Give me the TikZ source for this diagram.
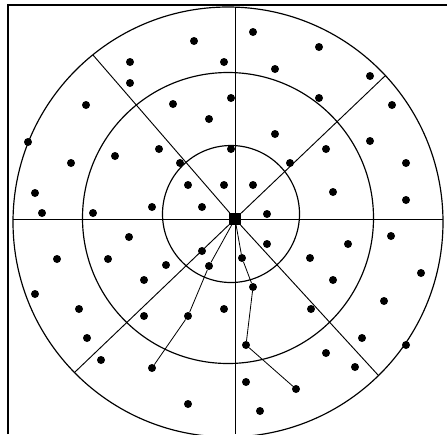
\documentclass[tikz,border=0pt]{standalone}
\begin{document}
\begin{tikzpicture}[x=0.03cm, y=-0.03cm,
  dot/.style={circle, fill, inner sep=0pt, minimum size=2.4mm},
  hubbox/.style={rectangle, fill, inner sep=0pt, minimum size=3.5mm},
  ring/.style={line width=1pt},
  spoke/.style={line width=0.8pt},
  route/.style={line width=0.7pt}]
\useasboundingbox (0,0) rectangle (447,434);
\clip (0,0) rectangle (447,434);

\draw[line width=1.6pt] (8,434) -- (8,5) -- (447,5);

\draw[ring] (231,214) circle (68.5);
\draw[ring] (228,218) circle (145.5);
\draw[ring] (228,222) circle (215);

\node[hubbox] (hub) at (235,219) {};

\coordinate (west) at (13,219);
\coordinate (east) at (443,219);
\coordinate (north) at (235,7);
\coordinate (south) at (235,434);
\coordinate (nw) at (93,55);
\coordinate (ne) at (386,75);
\coordinate (se) at (378,375);
\coordinate (sw) at (75,372);

\foreach \p in {west,east,north,south,nw,ne,se,sw}
  \draw[spoke] (hub) -- (\p);

\foreach \x/\y [count=\i] in {194/41, 130/62, 224/62, 130/83, 86/105, 173/104,
  209/119, 28/142, 159/149, 115/156, 71/163, 180/163, 35/193, 188/185,
  224/185, 152/207, 202/207, 42/213, 93/213, 231/98, 231/149,
  253/32, 319/47, 275/69, 370/76, 319/98, 392/105, 275/134, 370/141,
  326/149, 290/163, 406/163, 253/185, 333/192, 406/200, 267/214,
  129/237, 57/259, 108/259, 166/265, 202/251, 35/294, 144/280, 79/309,
  144/316, 224/309, 87/338, 101/360, 188/404,
  267/244, 348/244, 391/236, 310/258, 421/273, 333/280, 384/301,
  311/309, 362/338, 406/345, 326/353, 355/367, 246/382, 260/411}
  \node[dot] (d\i) at (\x,\y) {};

\node[dot] (a1) at (242,258) {};
\node[dot] (a2) at (253,287) {};
\node[dot] (a3) at (246,345) {};
\node[dot] (a4) at (296,389) {};
\node[dot] (b1) at (209,266) {};
\node[dot] (b2) at (188,316) {};
\node[dot] (b3) at (152,368) {};

\draw[route] (hub) -- (a1) -- (a2) -- (a3) -- (a4);
\draw[route] (hub) -- (b1) -- (b2) -- (b3);
\end{tikzpicture}
\end{document}
